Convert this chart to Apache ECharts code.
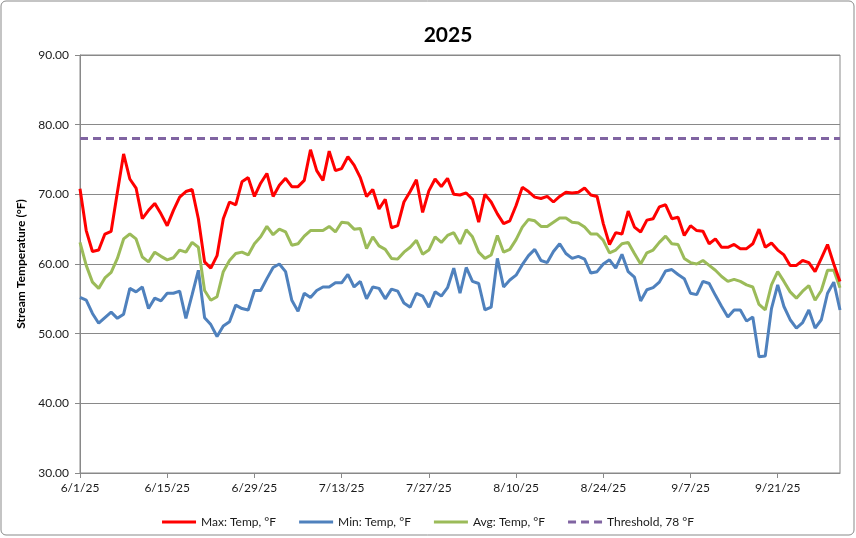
<!DOCTYPE html>
<html>
<head>
<meta charset="utf-8">
<script src="https://cdn.jsdelivr.net/npm/echarts@6/dist/echarts.min.js"></script>
<style>
html,body{margin:0;padding:0;background:#fff;}
#chart{width:856px;height:538px;}
</style>
</head>
<body>
<div id="chart"></div>
<script>
// Daily dates 6/1/25 .. 10/1/25
const startDate = new Date(2025, 5, 1);
const dayCount = 123;
const dates = [];
for (let i = 0; i < dayCount; i++) {
  const d = new Date(startDate.getFullYear(), startDate.getMonth(), startDate.getDate() + i);
  dates.push((d.getMonth() + 1) + '/' + d.getDate() + '/' + String(d.getFullYear()).slice(2));
}

const maxTemp = [
  70.8, 64.8, 61.8, 62.0, 64.3, 64.7, 70.3, 75.8, 72.2, 70.9,
  66.5, 67.7, 68.7, 67.2, 65.5, 67.7, 69.6, 70.4, 70.7, 66.5,
  60.3, 59.4, 61.2, 66.5, 68.9, 68.5, 71.8, 72.4, 69.7, 71.6,
  73.0, 69.7, 71.3, 72.3, 71.1, 71.1, 72.0, 76.4, 73.4, 72.0,
  76.2, 73.4, 73.7, 75.4, 74.2, 72.4, 69.7, 70.7, 67.9, 69.3,
  65.2, 65.5, 68.9, 70.4, 72.1, 67.4, 70.5, 72.2, 71.1, 72.3,
  70.0, 69.9, 70.2, 69.3, 66.0, 70.0, 68.9, 67.2, 65.8, 66.2,
  68.4, 71.0, 70.4, 69.6, 69.4, 69.7, 68.9, 69.7, 70.3, 70.2,
  70.3, 70.9, 69.9, 69.7, 65.8, 62.8, 64.5, 64.3, 67.6, 65.3,
  64.6, 66.3, 66.5, 68.2, 68.5, 66.5, 66.7, 64.1, 65.5, 64.8,
  64.7, 62.9, 63.6, 62.4, 62.4, 62.8, 62.2, 62.2, 62.9, 65.0,
  62.4, 63.0, 62.0, 61.3, 59.8, 59.8, 60.5, 60.2, 58.9, 60.8,
  62.8, 60.0, 57.5
];

const minTemp = [
  55.2, 54.8, 52.9, 51.5, 52.3, 53.1, 52.2, 52.8, 56.5, 56.0,
  56.7, 53.6, 55.1, 54.7, 55.8, 55.8, 56.1, 52.2, 55.6, 59.1,
  52.3, 51.3, 49.6, 51.1, 51.7, 54.1, 53.6, 53.4, 56.2, 56.2,
  57.9, 59.5, 60.0, 58.9, 54.8, 53.2, 55.8, 55.2, 56.2, 56.7,
  56.7, 57.3, 57.3, 58.5, 56.7, 57.5, 55.0, 56.7, 56.5, 55.0,
  56.4, 56.1, 54.4, 53.8, 55.8, 55.4, 53.8, 56.0, 55.4, 56.6,
  59.4, 55.8, 59.5, 57.5, 57.2, 53.4, 53.8, 60.8, 56.7, 57.7,
  58.4, 59.9, 61.2, 62.1, 60.5, 60.2, 61.8, 62.9, 61.5, 60.8,
  61.1, 60.7, 58.7, 58.9, 60.0, 60.6, 59.4, 61.4, 58.9, 58.1,
  54.7, 56.3, 56.6, 57.4, 59.0, 59.2, 58.5, 57.9, 55.8, 55.6,
  57.5, 57.2, 55.5, 53.9, 52.4, 53.4, 53.4, 51.8, 52.4, 46.7,
  46.8, 53.6, 57.0, 53.9, 52.0, 50.8, 51.6, 53.4, 50.8, 52.0,
  55.8, 57.4, 53.4
];

const avgTemp = [
  63.1, 59.8, 57.4, 56.5, 58.0, 58.8, 60.8, 63.6, 64.3, 63.6,
  61.0, 60.3, 61.7, 61.1, 60.6, 60.9, 62.0, 61.7, 63.1, 62.4,
  56.2, 54.8, 55.3, 58.9, 60.5, 61.5, 61.7, 61.3, 62.9, 63.9,
  65.4, 64.2, 65.0, 64.6, 62.7, 62.9, 64.0, 64.8, 64.8, 64.8,
  65.4, 64.6, 66.0, 65.9, 65.0, 65.1, 62.2, 63.9, 62.6, 62.1,
  60.8, 60.7, 61.7, 62.4, 63.4, 61.4, 62.0, 63.9, 63.1, 64.1,
  64.5, 62.9, 64.9, 63.9, 61.7, 60.8, 61.3, 64.1, 61.7, 62.1,
  63.5, 65.3, 66.4, 66.2, 65.4, 65.4, 66.0, 66.6, 66.6, 66.0,
  65.9, 65.3, 64.3, 64.3, 63.4, 61.6, 62.0, 62.9, 63.1, 61.5,
  60.0, 61.6, 62.0, 63.1, 64.0, 62.9, 62.8, 60.8, 60.2, 60.0,
  60.5, 59.8, 59.1, 58.2, 57.5, 57.8, 57.5, 57.0, 56.7, 54.2,
  53.4, 57.0, 58.9, 57.5, 56.0, 55.1, 56.1, 56.9, 54.8, 56.2,
  59.1, 59.1, 56.6
];

const thresholdValue = 78;
const thresholdLine = dates.map(() => thresholdValue);

const seriesNames = ['Max: Temp, °F', 'Min: Temp, °F', 'Avg: Temp, °F', 'Threshold, 78 °F'];
const yTicks = [30, 40, 50, 60, 70, 80, 90];

const FONT = 'Lato, "Open Sans", sans-serif';
const GRAY = '#898989';
const SOLID_ICON = 'path://M0,0H34V3H0Z';
const DASH_ICON = 'path://M0,0H8V3H0Z M13,0H21V3H13Z M26,0H34V3H26Z';

const chart = echarts.init(document.getElementById('chart'), null, {renderer: 'canvas'});
chart.setOption({
  animation: false,
  backgroundColor: '#fff',
  graphic: [{
    type: 'rect',
    shape: {x: 1, y: 1, width: 853, height: 534, r: 5},
    style: {fill: 'none', stroke: GRAY, lineWidth: 1},
    z: 100
  }],
  title: {
    text: '2025',
    left: 443,
    top: 20,
    textAlign: 'center',
    textStyle: {fontFamily: FONT, fontSize: 21, fontWeight: 'bold', color: '#000'}
  },
  legend: {
    data: [
      {name: seriesNames[0], icon: SOLID_ICON},
      {name: seriesNames[1], icon: SOLID_ICON},
      {name: seriesNames[2], icon: SOLID_ICON},
      {name: seriesNames[3], icon: DASH_ICON}
    ],
    left: 'center',
    top: 511,
    itemWidth: 34,
    itemHeight: 3,
    itemGap: 23,
    textStyle: {fontFamily: FONT, fontSize: 12, color: '#1a1a1a'}
  },
  grid: {
    left: 80, right: 16, top: 55, bottom: 65,
    show: true, borderColor: GRAY, borderWidth: 1, backgroundColor: 'transparent'
  },
  xAxis: {
    type: 'category',
    data: dates,
    boundaryGap: false,
    axisLine: {lineStyle: {color: GRAY, width: 1}},
    axisTick: {show: true, interval: 13, length: 5, lineStyle: {color: GRAY}},
    axisLabel: {interval: 13, margin: 9, fontFamily: FONT, fontSize: 12, color: '#1a1a1a'},
    splitLine: {show: false}
  },
  yAxis: {
    type: 'value',
    min: yTicks[0],
    max: yTicks[yTicks.length - 1],
    interval: 10,
    name: 'Stream Temperature (°F)',
    nameLocation: 'middle',
    nameGap: 48,
    nameTextStyle: {fontFamily: FONT, fontSize: 12, fontWeight: 'bold', color: '#000'},
    axisLine: {show: true, lineStyle: {color: GRAY, width: 1}},
    axisTick: {show: true, length: 5, lineStyle: {color: GRAY}},
    axisLabel: {margin: 11, fontFamily: FONT, fontSize: 12, color: '#1a1a1a', formatter: v => v.toFixed(2)},
    splitLine: {show: true, lineStyle: {color: GRAY, width: 1}}
  },
  series: [
    {name: seriesNames[0], type: 'line', data: maxTemp, symbol: 'none', lineStyle: {color: '#FF0000', width: 3}, itemStyle: {color: '#FF0000'}, z: 4},
    {name: seriesNames[1], type: 'line', data: minTemp, symbol: 'none', lineStyle: {color: '#4F81BD', width: 3}, itemStyle: {color: '#4F81BD'}, z: 3},
    {name: seriesNames[2], type: 'line', data: avgTemp, symbol: 'none', lineStyle: {color: '#9BBB59', width: 3}, itemStyle: {color: '#9BBB59'}, z: 3},
    {name: seriesNames[3], type: 'line', data: thresholdLine, symbol: 'none', lineStyle: {color: '#8064A2', width: 3, type: [8, 5]}, itemStyle: {color: '#8064A2'}, z: 2}
  ]
});
</script>
</body>
</html>
